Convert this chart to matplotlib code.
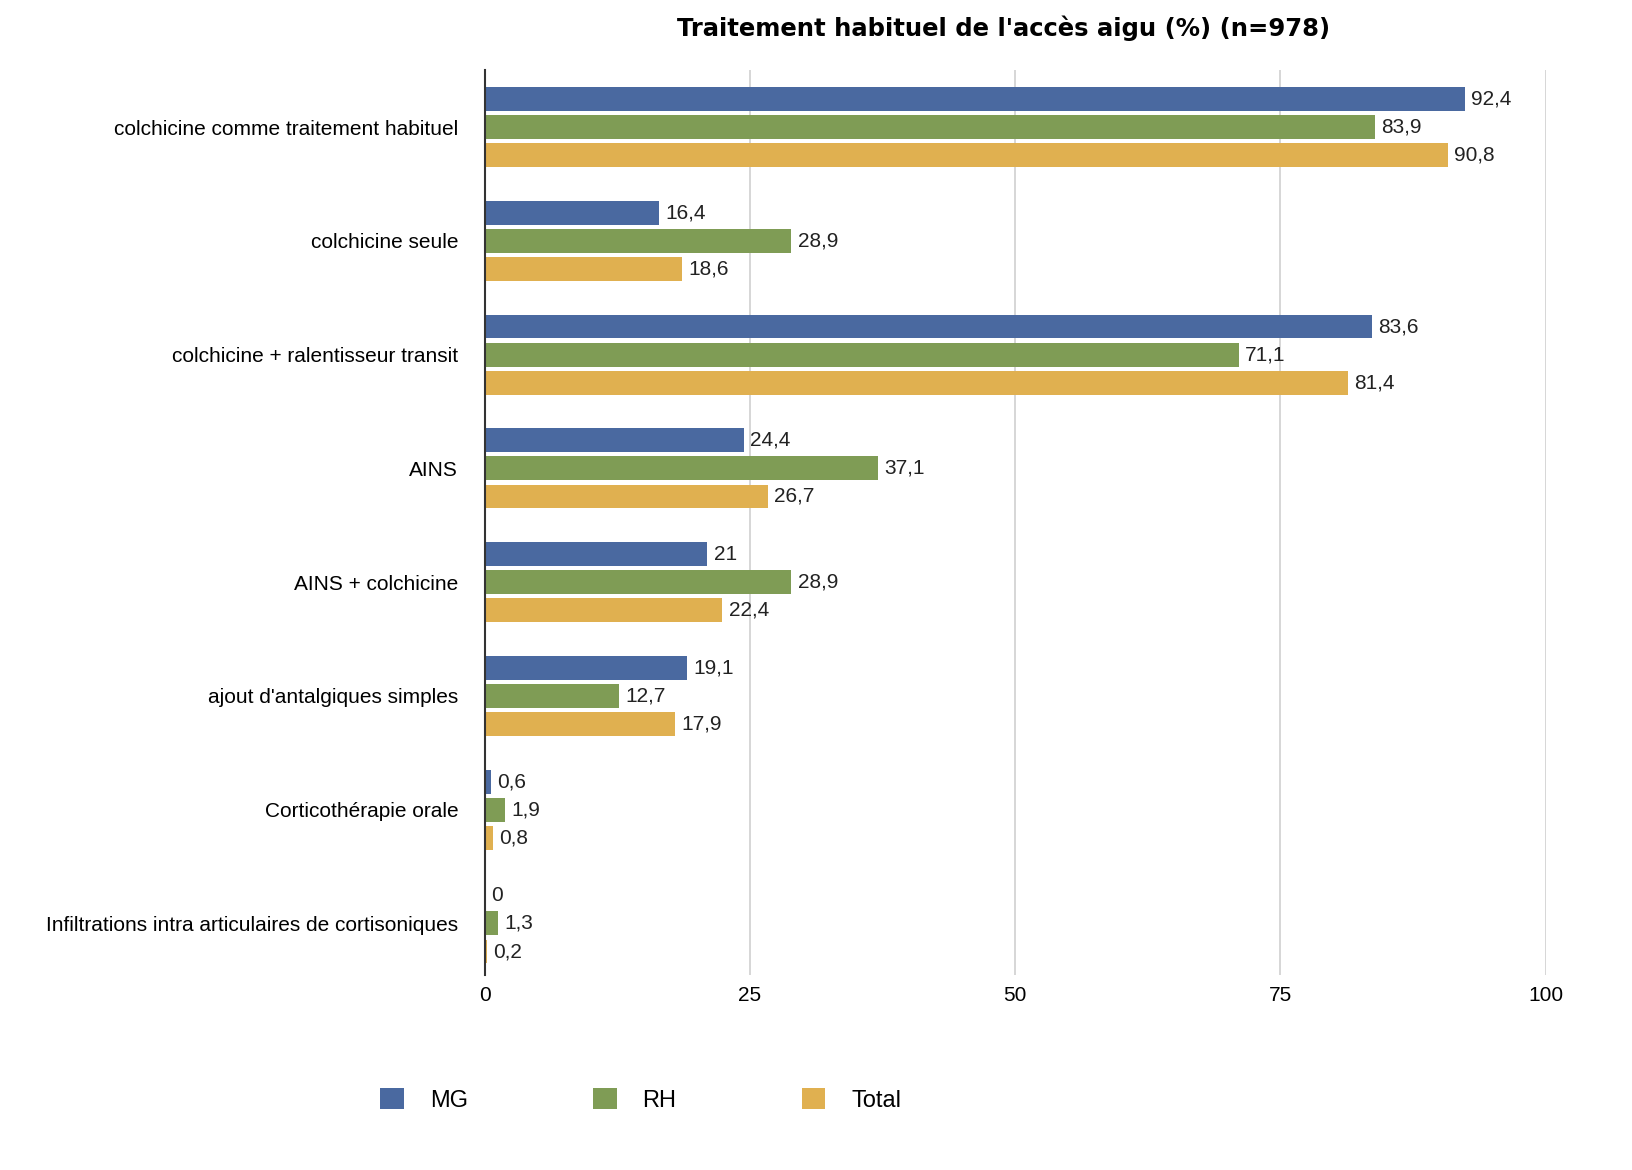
import matplotlib.pyplot as plt
import numpy as np
from matplotlib.patches import Patch

BLEU = "#4a69a0"
VERT = "#7f9c55"
OR = "#e0b050"
GRILLE = "#d0d0d0"

categories = [
    "colchicine comme traitement habituel",
    "colchicine seule",
    "colchicine + ralentisseur transit",
    "AINS",
    "AINS + colchicine",
    "ajout d'antalgiques simples",
    "Corticothérapie orale",
    "Infiltrations intra articulaires de cortisoniques",
]
mg = [92.4, 16.4, 83.6, 24.4, 21, 19.1, 0.6, 0]
rh = [83.9, 28.9, 71.1, 37.1, 28.9, 12.7, 1.9, 1.3]
total = [90.8, 18.6, 81.4, 26.7, 22.4, 17.9, 0.8, 0.2]
series = [("MG", mg, BLEU), ("RH", rh, VERT), ("Total", total, OR)]

plt.rcParams["font.family"] = ["Liberation Sans", "DejaVu Sans"]

fig = plt.figure(figsize=(16.32, 11.7), dpi=100)
ax = fig.add_axes([0.297, 0.167, 0.65, 0.773])

y = np.arange(len(categories))
decal = 0.247
haut = 0.21
for i, (nom, vals, cor) in enumerate(series):
    pos = y + (i - 1) * decal
    ax.barh(pos, vals, height=haut, color=cor, zorder=2)
    for p, v in zip(pos, vals):
        ax.text(v + 0.6, p, f"{v:g}".replace(".", ","), va="center",
                ha="left", fontsize=15, color="#222222", zorder=3)

ax.set_xlim(0, 100)
ax.set_ylim(len(categories) - 0.55, -0.5)
ax.set_xticks([0, 25, 50, 75, 100])
ax.set_yticks(y)
ax.set_yticklabels(categories, fontsize=15)
ax.tick_params(axis="x", labelsize=15, length=0, pad=8)
ax.tick_params(axis="y", length=0, pad=19)
ax.xaxis.grid(True, color=GRILLE, linewidth=1.2, zorder=0)
ax.set_axisbelow(True)
for s in ["top", "right", "bottom"]:
    ax.spines[s].set_visible(False)
ax.spines["left"].set_color("#333333")
ax.spines["left"].set_linewidth(1.5)

fig.text(0.615, 0.976, "Traitement habituel de l'accès aigu (%) (n=978)",
         ha="center", va="center", fontsize=17.5, fontweight="bold",
         family="DejaVu Sans")

poignees = [Patch(facecolor=c, edgecolor="none", label=n) for n, _, c in series]
fig.legend(handles=poignees, loc="center left", bbox_to_anchor=(0.22, 0.06),
           ncol=3, frameon=False, fontsize=17, handlelength=1.0,
           handleheight=1.0, columnspacing=5.3, handletextpad=1.1)

fig.savefig("out.png", dpi=100, facecolor="white")
